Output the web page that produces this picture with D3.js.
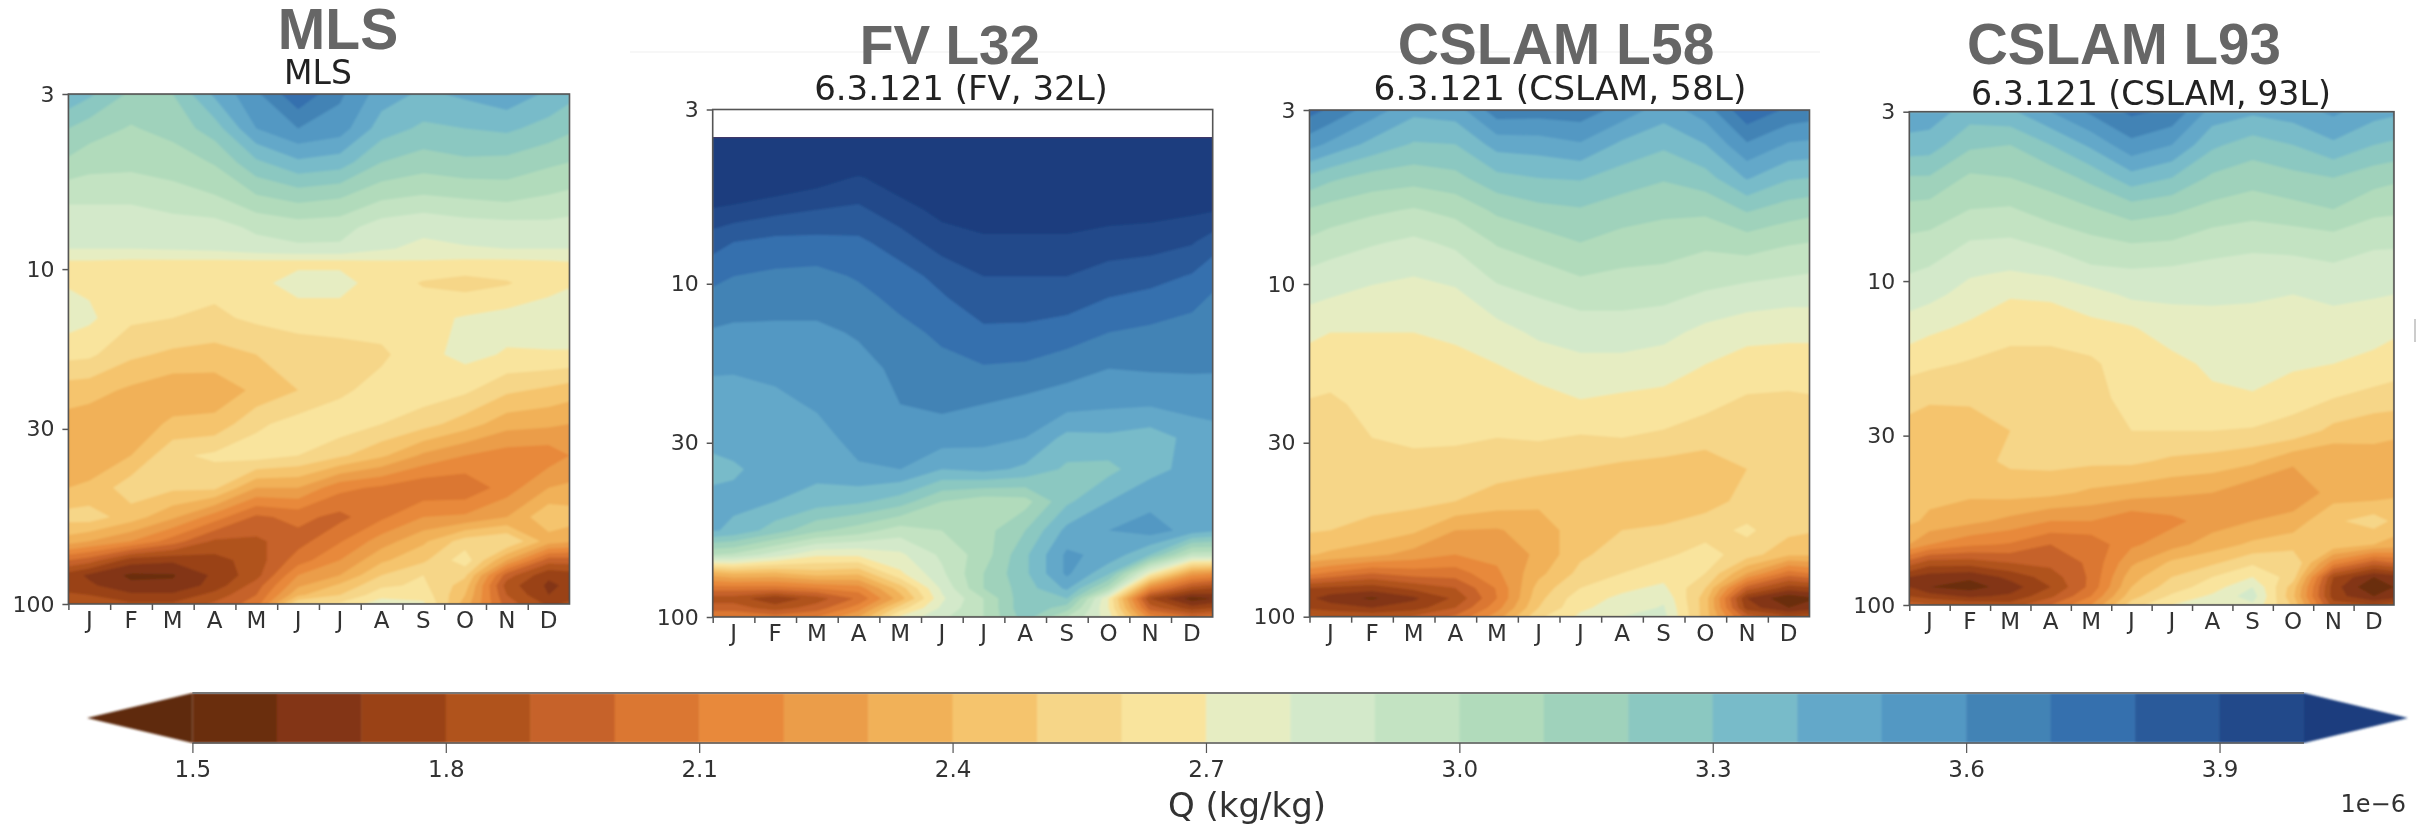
<!DOCTYPE html>
<html><head><meta charset="utf-8">
<script src="https://cdn.jsdelivr.net/npm/d3@7"></script>
<style>html,body{margin:0;padding:0;background:#fff}svg{display:block}</style>
</head><body><svg id="c" width="2432" height="829"></svg>
<script>
const months=["J","F","M","A","M","J","J","A","S","O","N","D"];
const xGrid=[0,.5,1.5,2.5,3.5,4.5,5.5,6.5,7.5,8.5,9.5,10.5,11.5,12];
const levels=[3,3.8,4.8,6,7.5,9.5,11,14,18,23,29,36,45,55,65,74,82,88,94,100];
const levelsMLS=[3,3.8,4.8,6,7.5,8.7,9.5,11,14,18,23,29,36,45,55,65,74,82,88,94,100];
const levelsFV=[3.63,3.8,4.8,6,7.5,9.5,11,14,18,23,29,36,45,55,65,74,82,88,94,100];
const pressureTicks=[3,10,30,100];
const cbarTicks=[1.5,1.8,2.1,2.4,2.7,3.0,3.3,3.6,3.9];
const thresholds=d3.range(26).map(i=>+(1.5+i*0.1).toFixed(1));
const colors=["#6b2f10","#833614","#9a4317","#b0521f","#c66229","#db7730","#e8893b","#eb9d4a","#f1b158","#f5c46d","#f6d688","#f9e49d","#e6edc2","#d3e9ca","#c3e3c2","#b1dbbb","#9fd2bb","#8bc8c1","#78bbc9","#64a8c9","#5398c3","#4383b5","#346fae","#2a5a9a","#204a8a","#1a3c7e"];
const underColor="#5e2c10";

// each inner array: one time column (Jan edge ... Dec edge), values top to bottom, in 1e-6 kg/kg
const mlsQ=[
[3.38,3.20,3.08,2.93,2.83,2.80,2.69,2.69,2.75,2.63,2.45,2.36,2.34,2.40,2.54,2.35,2.0,1.75,1.74,1.82,1.88],
[3.32,3.15,3.04,2.93,2.83,2.80,2.69,2.68,2.72,2.62,2.44,2.34,2.33,2.42,2.55,2.3,1.95,1.68,1.72,1.8,1.85],
[3.18,3.09,3.03,2.93,2.83,2.80,2.68,2.63,2.62,2.52,2.38,2.34,2.40,2.56,2.45,2.2,1.75,1.58,1.62,1.72,1.82],
[3.2,3.14,3.04,2.97,2.85,2.81,2.68,2.63,2.60,2.48,2.33,2.42,2.58,2.52,2.32,2.05,1.72,1.59,1.62,1.72,1.82],
[3.42,3.25,3.11,3.00,2.86,2.82,2.68,2.63,2.58,2.46,2.34,2.43,2.62,2.52,2.15,1.88,1.76,1.72,1.74,1.84,1.92],
[3.58,3.5,3.28,3.1,2.92,2.86,2.68,2.68,2.62,2.5,2.42,2.58,2.65,2.3,1.98,1.88,1.85,1.86,1.95,2.0,2.05],
[3.78,3.6,3.38,3.15,2.95,2.88,2.68,2.73,2.66,2.52,2.5,2.64,2.6,2.3,2.03,1.96,2.05,2.2,2.28,2.38,2.6],
[3.62,3.55,3.35,3.12,2.94,2.88,2.68,2.73,2.66,2.55,2.58,2.66,2.52,2.13,1.97,2.09,2.2,2.3,2.42,2.5,2.62],
[3.45,3.35,3.2,3.03,2.85,2.81,2.69,2.66,2.65,2.58,2.64,2.6,2.42,2.08,2.08,2.25,2.38,2.5,2.58,2.66,2.76],
[3.38,3.28,3.15,3.0,2.82,2.78,2.69,2.59,2.67,2.67,2.66,2.54,2.28,2.02,2.2,2.38,2.48,2.6,2.62,2.66,2.72],
[3.42,3.3,3.18,3.02,2.85,2.79,2.68,2.56,2.71,2.73,2.62,2.45,2.2,2.02,2.22,2.55,2.66,2.52,2.45,2.4,2.35],
[3.47,3.32,3.17,3.04,2.86,2.80,2.68,2.59,2.74,2.69,2.52,2.34,2.15,2.15,2.3,2.6,2.3,1.95,1.85,1.9,1.95],
[3.38,3.26,3.12,3.0,2.87,2.80,2.69,2.66,2.76,2.69,2.48,2.32,2.14,2.3,2.48,2.35,1.95,1.72,1.68,1.7,1.78],
[3.33,3.22,3.1,2.98,2.86,2.80,2.7,2.69,2.76,2.69,2.45,2.3,2.2,2.32,2.45,2.32,1.95,1.75,1.72,1.76,1.82]
];
const fv32Q=[
[4.4,4.35,4.18,3.99,3.84,3.73,3.67,3.59,3.51,3.46,3.43,3.37,3.43,3.41,3.0,2.35,2.05,1.85,1.95,2.1],
[4.4,4.3,4.15,3.97,3.8,3.7,3.65,3.58,3.51,3.45,3.43,3.39,3.42,3.38,2.98,2.4,2.05,1.85,1.95,2.1],
[4.4,4.3,4.1,3.93,3.77,3.68,3.64,3.58,3.52,3.48,3.45,3.43,3.4,3.25,2.85,2.38,2.05,1.72,1.85,2.05],
[4.4,4.2,4.05,3.9,3.77,3.67,3.64,3.58,3.55,3.51,3.47,3.44,3.35,3.12,2.72,2.45,2.1,1.85,1.95,2.1],
[4.3,4.2,3.99,3.88,3.78,3.71,3.67,3.61,3.57,3.55,3.53,3.49,3.32,3.05,2.72,2.42,2.15,2.02,2.15,2.3],
[4.3,4.22,4.06,3.96,3.85,3.76,3.73,3.67,3.62,3.6,3.55,3.5,3.25,2.95,2.78,2.68,2.45,2.35,2.55,2.72],
[4.3,4.25,4.11,4.03,3.95,3.83,3.79,3.72,3.67,3.62,3.55,3.4,3.1,3.0,2.92,2.88,2.82,2.78,2.82,2.88],
[4.3,4.28,4.13,4.06,3.98,3.9,3.86,3.78,3.69,3.6,3.53,3.43,3.04,3.06,3.05,3.1,3.1,3.0,3.0,3.0],
[4.3,4.28,4.13,4.06,3.98,3.9,3.85,3.78,3.68,3.57,3.5,3.38,3.06,3.2,3.28,3.28,3.25,3.28,3.28,3.25],
[4.3,4.28,4.13,4.06,3.98,3.9,3.85,3.75,3.64,3.54,3.37,3.28,3.28,3.43,3.52,3.52,3.42,3.3,3.15,3.0],
[4.3,4.28,4.13,4.05,3.95,3.86,3.8,3.7,3.6,3.52,3.38,3.27,3.4,3.5,3.47,3.32,3.05,2.7,2.7,2.75],
[4.3,4.27,4.11,4.04,3.94,3.84,3.77,3.68,3.61,3.51,3.35,3.37,3.47,3.55,3.3,2.72,2.15,1.8,1.95,2.15],
[4.3,4.25,4.08,4.02,3.91,3.79,3.73,3.66,3.61,3.54,3.43,3.43,3.46,3.46,2.95,2.25,1.85,1.55,1.75,2.0],
[4.3,4.25,4.06,4.01,3.85,3.73,3.69,3.64,3.61,3.53,3.47,3.45,3.46,3.42,2.95,2.2,1.8,1.6,1.8,2.05]
];
const cslam58Q=[
[3.74,3.54,3.27,3.09,2.98,2.87,2.82,2.72,2.65,2.59,2.57,2.55,2.53,2.51,2.41,2.13,1.8,1.72,1.78,1.92],
[3.68,3.48,3.22,3.06,2.95,2.85,2.80,2.70,2.64,2.58,2.56,2.55,2.53,2.5,2.38,2.08,1.78,1.65,1.75,1.9],
[3.55,3.37,3.16,3.02,2.91,2.82,2.77,2.70,2.66,2.63,2.6,2.56,2.53,2.47,2.33,2.0,1.75,1.58,1.7,1.88],
[3.43,3.29,3.14,2.99,2.88,2.80,2.76,2.70,2.67,2.64,2.61,2.58,2.53,2.42,2.26,2.05,1.83,1.68,1.75,1.92],
[3.45,3.3,3.17,3.03,2.92,2.83,2.77,2.72,2.66,2.64,2.61,2.57,2.5,2.3,2.2,2.05,1.9,1.82,1.9,2.02],
[3.66,3.44,3.27,3.12,3.01,2.92,2.86,2.76,2.69,2.64,2.6,2.54,2.45,2.29,2.23,2.18,2.11,2.1,2.16,2.25],
[3.65,3.45,3.3,3.17,3.05,2.96,2.9,2.82,2.73,2.66,2.61,2.52,2.42,2.35,2.32,2.37,2.44,2.47,2.5,2.58],
[3.66,3.49,3.31,3.19,3.1,3.0,2.93,2.85,2.76,2.69,2.59,2.5,2.4,2.45,2.48,2.53,2.6,2.66,2.68,2.72],
[3.56,3.38,3.25,3.15,3.06,2.98,2.93,2.85,2.76,2.67,2.6,2.47,2.43,2.5,2.55,2.6,2.68,2.72,2.75,2.8],
[3.45,3.32,3.21,3.12,3.05,2.97,2.92,2.83,2.74,2.66,2.58,2.45,2.42,2.52,2.58,2.66,2.72,2.78,2.81,2.83],
[3.55,3.4,3.26,3.12,3.02,2.94,2.88,2.77,2.69,2.62,2.55,2.42,2.46,2.56,2.64,2.6,2.5,2.45,2.45,2.45],
[3.78,3.59,3.41,3.21,3.05,2.92,2.85,2.73,2.65,2.58,2.55,2.5,2.53,2.62,2.55,2.3,1.95,1.7,1.75,1.95],
[3.68,3.49,3.31,3.15,3.01,2.9,2.83,2.72,2.65,2.57,2.55,2.53,2.52,2.53,2.42,2.05,1.75,1.52,1.6,1.82],
[3.66,3.48,3.3,3.13,3.0,2.89,2.83,2.72,2.65,2.58,2.55,2.53,2.52,2.51,2.42,2.1,1.78,1.58,1.65,1.85]
];
const cslam93Q=[
[3.47,3.36,3.19,3.07,2.98,2.9,2.85,2.75,2.64,2.53,2.47,2.45,2.43,2.42,2.3,1.95,1.7,1.7,1.8,1.95],
[3.46,3.35,3.19,3.06,2.97,2.88,2.83,2.72,2.62,2.51,2.46,2.45,2.43,2.38,2.2,1.85,1.65,1.6,1.75,1.92],
[3.35,3.22,3.08,3.0,2.9,2.81,2.76,2.68,2.59,2.51,2.47,2.46,2.42,2.33,2.12,1.85,1.62,1.55,1.68,1.88],
[3.38,3.2,3.1,2.99,2.89,2.79,2.71,2.63,2.57,2.5,2.5,2.52,2.44,2.27,2.09,1.9,1.73,1.65,1.72,1.85],
[3.5,3.3,3.14,3.05,2.93,2.81,2.72,2.63,2.57,2.55,2.54,2.53,2.43,2.2,2.0,1.93,1.85,1.8,1.88,2.0],
[3.62,3.42,3.23,3.09,2.98,2.87,2.76,2.67,2.58,2.55,2.54,2.52,2.38,2.2,2.03,2.02,2.02,2.03,2.1,2.2],
[3.72,3.57,3.36,3.15,3.01,2.88,2.82,2.69,2.66,2.65,2.6,2.52,2.35,2.12,2.18,2.28,2.36,2.4,2.46,2.55],
[3.68,3.5,3.3,3.12,3.0,2.87,2.82,2.75,2.67,2.66,2.6,2.48,2.32,2.17,2.26,2.42,2.5,2.55,2.62,2.7],
[3.46,3.32,3.18,3.07,2.95,2.86,2.82,2.76,2.72,2.68,2.6,2.46,2.3,2.25,2.35,2.48,2.6,2.65,2.72,2.76],
[3.42,3.25,3.14,3.04,2.93,2.85,2.81,2.77,2.74,2.69,2.59,2.42,2.22,2.3,2.42,2.58,2.7,2.8,2.85,2.78],
[3.45,3.3,3.17,3.07,2.94,2.85,2.8,2.74,2.72,2.63,2.57,2.32,2.2,2.35,2.45,2.6,2.55,2.45,2.42,2.48],
[3.52,3.38,3.2,3.1,2.96,2.87,2.83,2.74,2.7,2.6,2.47,2.3,2.35,2.48,2.48,2.15,1.8,1.75,1.75,1.85],
[3.44,3.3,3.14,3.03,2.92,2.85,2.81,2.73,2.68,2.56,2.43,2.36,2.34,2.55,2.4,1.95,1.6,1.5,1.6,1.8],
[3.42,3.28,3.12,3.02,2.92,2.84,2.8,2.72,2.65,2.55,2.42,2.35,2.38,2.48,2.36,2.0,1.65,1.6,1.65,1.85]
];

const panels=[
 {q:mlsQ,lv:levelsMLS,x0:68.4,x1:569.5,y0:94,y1:604,head:"MLS",hx:338,hy:49,hs:57,sub:"MLS",sx:318,sy:84,ss:33},
 {q:fv32Q,lv:levelsFV,x0:712.7,x1:1212.7,y0:109.5,y1:617,head:"FV L32",hx:950,hy:64,hs:55,sub:"6.3.121 (FV, 32L)",sx:961,sy:100,ss:34},
 {q:cslam58Q,lv:levels,x0:1309.5,x1:1809.5,y0:110,y1:616.7,head:"CSLAM L58",hx:1556,hy:64,hs:57,sub:"6.3.121 (CSLAM, 58L)",sx:1560,sy:100,ss:34.4},
 {q:cslam93Q,lv:levels,x0:1909.3,x1:2394,y0:111.7,y1:605,head:"CSLAM L93",hx:2124,hy:64,hs:56.5,sub:"6.3.121 (CSLAM, 93L)",sx:2151,sy:105,ss:33.2}
];

const svg=d3.select("#c");
const defs=svg.append("defs");
defs.append("filter").attr("id","soft").attr("x","-2%").attr("y","-2%").attr("width","104%").attr("height","104%")
  .append("feGaussianBlur").attr("stdDeviation",0.9);
defs.append("filter").attr("id","softText").attr("x","-5%").attr("y","-5%").attr("width","110%").attr("height","110%")
  .append("feGaussianBlur").attr("stdDeviation",0.5);
const sans="'DejaVu Sans',sans-serif", head="'Liberation Sans',Arial,sans-serif";

// faint scan artefacts of the source composite
svg.append("line").attr("x1",630).attr("x2",1820).attr("y1",52).attr("y2",52).attr("stroke","#f5f5f5").attr("stroke-width",1.5);
svg.append("line").attr("x1",2415).attr("x2",2415).attr("y1",319).attr("y2",342).attr("stroke","#bbb").attr("stroke-width",1.5);

panels.forEach((p,k)=>{
  const n=p.lv.length,m=xGrid.length;
  const x=d3.scaleLinear().domain([0,12]).range([p.x0,p.x1]);
  const y=d3.scaleLog().domain([3,100]).range([p.y0,p.y1]);
  const band=d3.scaleBand().domain(d3.range(12)).range([p.x0,p.x1]);
  const values=new Array(n*m);
  for(let j=0;j<n;j++)for(let i=0;i<m;i++)values[j*m+i]=p.q[i][j];
  const mapAxis=(c,arr,f)=>{
    const t=Math.max(0,Math.min(arr.length-1,c-0.5)),i=Math.min(arr.length-2,Math.floor(t));
    return f(arr[i])+(f(arr[i+1])-f(arr[i]))*(t-i);
  };
  const path=d3.geoPath(d3.geoTransform({point(a,b){this.stream.point(mapAxis(a,xGrid,x),mapAxis(b,p.lv,y));}}));
  const cid="clip"+k;
  defs.append("clipPath").attr("id",cid).append("rect").attr("x",p.x0).attr("y",y(p.lv[0])).attr("width",p.x1-p.x0).attr("height",p.y1-y(p.lv[0]));
  const outer=svg.append("g").attr("clip-path",`url(#${cid})`);
  const g=outer.append("g").attr("filter","url(#soft)");
  g.append("rect").attr("x",p.x0-4).attr("y",y(p.lv[0])-4).attr("width",p.x1-p.x0+8).attr("height",p.y1-y(p.lv[0])+8).attr("fill",underColor);
  const contours=d3.contours().size([m,n]).thresholds(thresholds)(values);
  g.selectAll("path").data(contours).join("path")
    .attr("d",d=>path(d)).attr("fill",(d,i)=>colors[i]);

  svg.append("rect").attr("x",p.x0).attr("y",p.y0).attr("width",p.x1-p.x0).attr("height",p.y1-p.y0)
    .attr("fill","none").attr("stroke","#555").attr("stroke-width",1.6);

  const yAx=svg.append("g").attr("transform",`translate(${p.x0},0)`)
    .call(d3.axisLeft(y).tickValues(pressureTicks).tickFormat(d3.format("d")).tickSize(6).tickPadding(8));
  yAx.select(".domain").remove();
  yAx.selectAll("text").attr("font-family",sans).attr("font-size",22).attr("fill","#333").attr("filter","url(#softText)");
  yAx.selectAll("line").attr("stroke","#555").attr("stroke-width",1.5);

  const xTicks=svg.append("g").attr("transform",`translate(0,${p.y1})`)
    .call(d3.axisBottom(x).tickValues(d3.range(12)).tickFormat("").tickSize(6));
  xTicks.select(".domain").remove();
  xTicks.selectAll("line").attr("stroke","#555").attr("stroke-width",1.5);
  const xLab=svg.append("g").attr("transform",`translate(0,${p.y1})`)
    .call(d3.axisBottom(band).tickFormat(i=>months[i]).tickSize(0).tickPadding(8));
  xLab.select(".domain").remove();
  xLab.selectAll("text").attr("font-family",sans).attr("font-size",23).attr("fill","#333").attr("filter","url(#softText)");

  svg.append("text").attr("x",p.hx).attr("y",p.hy).attr("text-anchor","middle")
    .attr("font-family",head).attr("font-weight",700).attr("font-size",p.hs).attr("fill","#666").text(p.head);
  svg.append("text").attr("x",p.sx).attr("y",p.sy).attr("text-anchor","middle").attr("filter","url(#softText)")
    .attr("font-family",sans).attr("font-size",p.ss).attr("fill","#222").text(p.sub);
});

// colour bar
const cbX=d3.scaleLinear().domain([1.5,4.0]).range([192.4,2304]);
const cbTop=693,cbBot=743,cbMid=718;
const cb=svg.append("g");
cb.selectAll("rect.bin").data(thresholds.slice(0,25)).join("rect").attr("class","bin")
  .attr("x",d=>cbX(d)).attr("width",d=>cbX(d+0.1)-cbX(d)+0.5).attr("y",cbTop).attr("height",cbBot-cbTop)
  .attr("fill",(d,i)=>colors[i]);
const tipL=cbX(1.5)-105.4,tipR=cbX(4.0)+104;
cb.append("path").attr("d",d3.line()([[cbX(1.5),cbTop],[tipL,cbMid],[cbX(1.5),cbBot]])+"Z").attr("fill",underColor);
cb.append("path").attr("d",d3.line()([[cbX(4.0),cbTop],[tipR,cbMid],[cbX(4.0),cbBot]])+"Z").attr("fill",colors[25]);
cb.attr("filter","url(#soft)");
svg.append("path").attr("d",d3.line()([[cbX(1.5),cbTop],[cbX(4.0),cbTop]])).attr("fill","none").attr("stroke","#777").attr("stroke-width",2);
svg.append("path").attr("d",d3.line()([[cbX(1.5),cbBot],[cbX(4.0),cbBot]])).attr("fill","none").attr("stroke","#555").attr("stroke-width",1.6);
const cbAx=svg.append("g").attr("transform",`translate(0,${cbBot})`)
  .call(d3.axisBottom(cbX).tickValues(cbarTicks).tickFormat(d3.format(".1f")).tickSize(10).tickPadding(8));
cbAx.select(".domain").remove();
cbAx.selectAll("text").attr("font-family",sans).attr("font-size",23).attr("fill","#333").attr("filter","url(#softText)");
cbAx.selectAll("line").attr("stroke","#555").attr("stroke-width",1.2);
svg.append("text").attr("x",1247).attr("y",817).attr("text-anchor","middle").attr("font-family",sans).attr("font-size",34).attr("fill","#333").attr("filter","url(#softText)").text("Q (kg/kg)");
svg.append("text").attr("x",2406).attr("y",812).attr("text-anchor","end").attr("font-family",sans).attr("font-size",24).attr("fill","#333").attr("filter","url(#softText)").text("1e\u22126");
</script></body></html>
